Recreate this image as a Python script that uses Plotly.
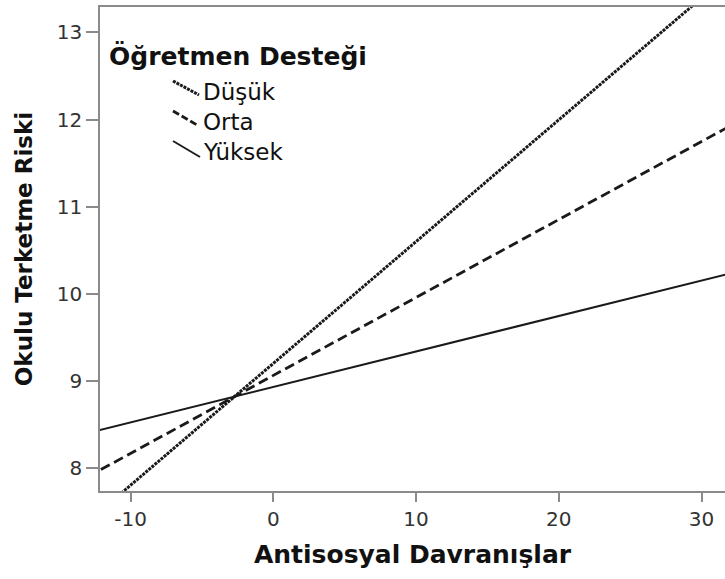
import plotly.graph_objects as go

# ---- data ----
x_points = [-13, 32]                      # Antisosyal Davranışlar
dusuk = [7.387, 13.673]                   # Öğretmen Desteği: Düşük
orta = [7.903, 11.926]                    # Orta
yuksek = [8.404, 10.235]                  # Yüksek

series_names = ["Düşük", "Orta", "Yüksek"]
x_ticks = [-10, 0, 10, 20, 30]
y_ticks = [8, 9, 10, 11, 12, 13]

# ---- layout geometry (pixels) ----
W, H = 725, 579
L, R, T, B = 100, 0, 7, 88
PW, PH = W - L - R, H - T - B

def px(x):
    return (x - L) / PW

def py(y):
    return (H - B - y) / PH

FONT = "DejaVu Sans"
INK = "#1a1a1a"
AXIS = "#8a8a8a"

styles = [
    dict(dash="3px,1px", width=3.0),
    dict(dash="10px,5px", width=2.8),
    dict(dash="solid", width=2.0),
]
glyph_dash = ["3px,1px", "7px,3px", "solid"]

fig = go.Figure()
for name, ys, st in zip(series_names, [dusuk, orta, yuksek], styles):
    fig.add_trace(go.Scatter(
        x=x_points, y=ys, mode="lines", name=name,
        line=dict(color=INK, width=st["width"], dash=st["dash"]),
        showlegend=False, hoverinfo="skip",
    ))

# ---- custom legend (slanted glyphs as in the reference) ----
legend_rows = [
    (series_names[0], (173, 81, 199, 95), 92),
    (series_names[1], (173, 111, 197, 125), 122),
    (series_names[2], (173, 141, 200, 157), 152),
]
annotations = [dict(
    text="<b>Öğretmen Desteği</b>", xref="paper", yref="paper",
    x=px(107), y=py(56), xanchor="left", yanchor="middle", showarrow=False,
    font=dict(family=FONT, size=25, color="#111"),
)]
shapes = []
for (name, (x0, y0, x1, y1), ty), st, gd in zip(legend_rows, styles, glyph_dash):
    shapes.append(dict(
        type="line", xref="paper", yref="paper",
        x0=px(x0), y0=py(y0), x1=px(x1), y1=py(y1),
        line=dict(color=INK, width=st["width"], dash=gd),
    ))
    annotations.append(dict(
        text=name, xref="paper", yref="paper",
        x=px(201), y=py(ty), xanchor="left", yanchor="middle", showarrow=False,
        font=dict(family=FONT, size=23, color="#111"),
    ))

fig.update_layout(
    width=W, height=H,
    margin=dict(l=L, r=R, t=T, b=B, pad=0),
    paper_bgcolor="white", plot_bgcolor="white",
    font=dict(family=FONT, color=INK),
    shapes=shapes, annotations=annotations,
    xaxis=dict(
        range=[-12.14, 31.64], tickvals=x_ticks, ticktext=[str(v) for v in x_ticks],
        showgrid=False, zeroline=False,
        showline=True, linecolor=AXIS, linewidth=1.5, mirror=True,
        ticks="outside", ticklen=9, tickwidth=1.5, tickcolor=AXIS,
        tickfont=dict(family=FONT, size=20, color="#333"),
        title=dict(text="<b>Antisosyal Davranışlar</b>", standoff=16,
                   font=dict(family=FONT, size=25, color="#111")),
        automargin=False,
    ),
    yaxis=dict(
        range=[7.74, 13.29], tickvals=y_ticks, ticktext=[str(v) for v in y_ticks],
        showgrid=False, zeroline=False,
        showline=True, linecolor=AXIS, linewidth=1.5,
        ticks="outside", ticklen=12, tickwidth=1.5, tickcolor=AXIS,
        tickfont=dict(family=FONT, size=20, color="#333"),
        title=dict(text="<b>Okulu Terketme Riski</b>", standoff=18,
                   font=dict(family=FONT, size=23, color="#111")),
        automargin=False,
    ),
)

fig.write_html(
    "out.html",
    config={"displayModeBar": False},
    post_script="document.body.style.margin='0';document.body.style.overflow='hidden';",
)
